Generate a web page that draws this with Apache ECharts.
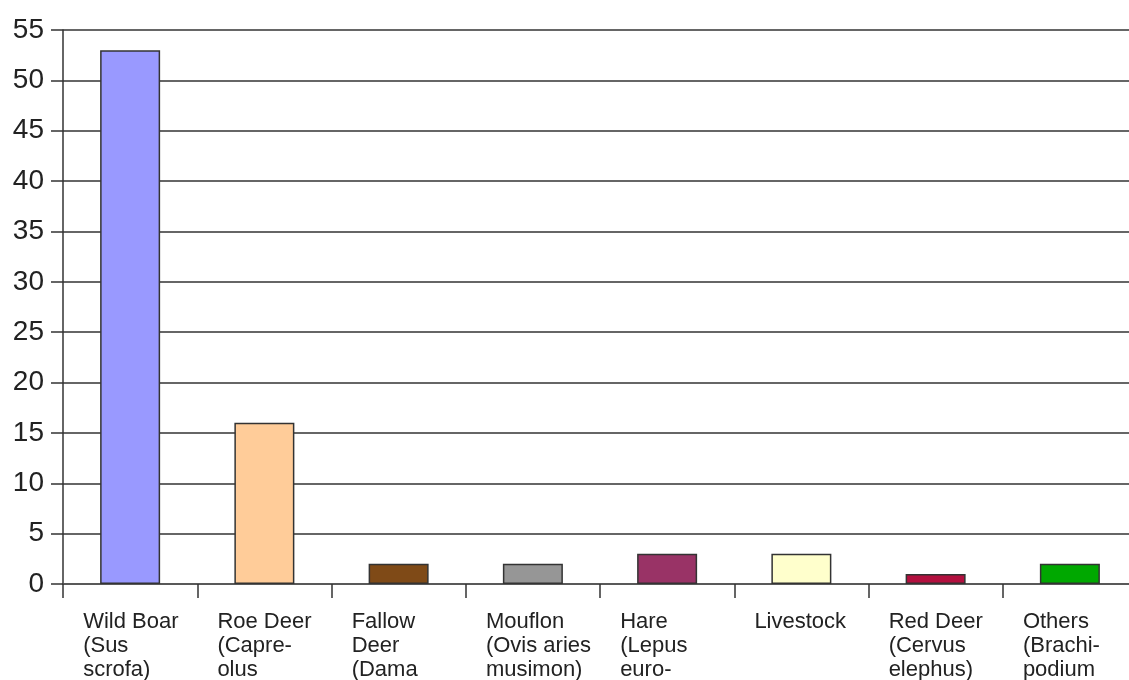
<!DOCTYPE html>
<html>
<head>
<meta charset="utf-8">
<script src="https://cdn.jsdelivr.net/npm/echarts@6/dist/echarts.min.js"></script>
<style>
  html, body { margin: 0; padding: 0; background: #fff; }
  #chart { width: 1129px; height: 680px; }
</style>
</head>
<body>
<div id="chart"></div>
<script>
// 类别（标签在图片底部被截断）
const categories = [
  'Wild Boar\n(Sus\nscrofa)',
  'Roe Deer\n(Capre-\nolus',
  'Fallow\nDeer\n(Dama',
  'Mouflon\n(Ovis aries\nmusimon)',
  'Hare\n(Lepus\neuro-',
  'Livestock',
  'Red Deer\n(Cervus\nelephus)',
  'Others\n(Brachi-\npodium'
]
const values = [53, 16, 2, 2, 3, 3, 1, 2]
const barColors = ['#9999ff', '#ffcc99', '#7f4a17', '#969696', '#993366', '#ffffcc', '#b3103f', '#00a800']

let myChart = echarts.init(document.getElementById('chart'))
let option = {
  backgroundColor: '#fff',
  animation: false,
  grid: {
    left: 63,
    width: 1074, // 最后一个类别超出画布
    top: 30,
    bottom: 96,
    outerBoundsMode: 'none', // 不自动收缩，让标签被截断
    containLabel: false
  },
  xAxis: {
    type: 'category',
    data: categories,
    axisLine: { lineStyle: { color: '#555', width: 1.5 } },
    axisTick: { show: true, length: 14, lineStyle: { color: '#333', width: 1.5 } },
    axisLabel: {
      margin: 26,
      align: 'center',
      formatter: v => v.split('\n').map(s => '{a|' + s + '}').join('\n'),
      rich: {
        a: {
          width: 94,
          align: 'left',
          fontFamily: 'Liberation Sans, Arial, sans-serif',
          fontSize: 22,
          lineHeight: 24,
          color: '#222'
        }
      }
    }
  },
  yAxis: {
    type: 'value',
    min: 0,
    max: 55,
    interval: 5,
    axisLine: { show: true, lineStyle: { color: '#333', width: 1.5 } },
    axisTick: { show: true, length: 12, lineStyle: { color: '#333', width: 1.5 } },
    axisLabel: {
      margin: 19,
      fontFamily: 'Liberation Sans, Arial, sans-serif',
      fontSize: 28,
      color: '#222'
    },
    splitLine: { lineStyle: { color: '#333', width: 1.5 } }
  },
  series: [
    {
      type: 'bar',
      barWidth: 60,
      data: values.map((v, i) => ({
        value: v,
        itemStyle: { color: barColors[i] }
      })),
      itemStyle: {
        borderColor: '#333',
        borderWidth: 1.5
      }
    }
  ]
}
myChart.setOption(option)
</script>
</body>
</html>
